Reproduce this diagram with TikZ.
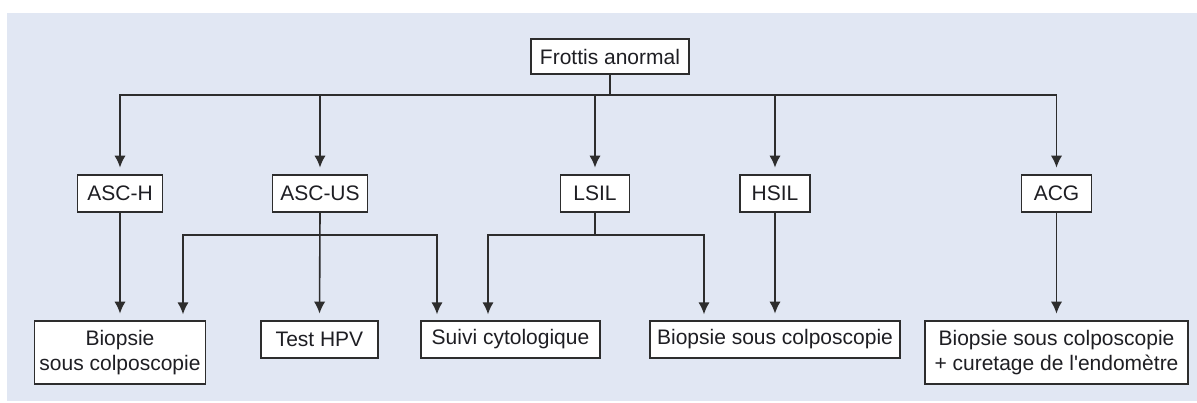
\documentclass[tikz,border=0pt]{standalone}
\usepackage{fontspec}
\setmainfont{Liberation Sans}[Ligatures=TeXOff]
\usetikzlibrary{arrows.meta}
\definecolor{bgblue}{RGB}{225,231,243}
\definecolor{lincol}{RGB}{45,45,45}
\definecolor{txtcol}{RGB}{30,30,35}
\begin{document}
\begin{tikzpicture}[x=0.75pt,y=-0.75pt,
  box/.style={draw=lincol,line width=1.1pt,fill=white,inner sep=0pt,align=center,
    text=txtcol,font=\fontsize{15.75pt}{18.75pt}\selectfont},
  conn/.style={draw=lincol,line width=1.2pt},
  arr/.style={conn,-{Latex[length=9pt,width=8.5pt]},shorten >=5pt}]
\useasboundingbox (0,0) rectangle (1197,403);
\fill[bgblue] (7,13) rectangle (1197,401);
% top
\node[box,minimum width=158*0.75pt,minimum height=35*0.75pt] (top) at (610,56.5) {Frottis anormal};
% level 1
\node[box,minimum width=85*0.75pt,minimum height=37*0.75pt] (asch) at (120,193.5) {ASC-H};
\node[box,minimum width=95*0.75pt,minimum height=37*0.75pt] (ascus) at (320,193.5) {ASC-US};
\node[box,minimum width=69*0.75pt,minimum height=37*0.75pt] (lsil) at (595,193.5) {LSIL};
\node[box,minimum width=70*0.75pt,minimum height=37*0.75pt] (hsil) at (775,193.5) {HSIL};
\node[box,minimum width=70*0.75pt,minimum height=37*0.75pt] (acg) at (1056.5,193.5) {ACG};
% level 2
\node[box,minimum width=171*0.75pt,minimum height=63*0.75pt] (biopl) at (120,352.5) {Biopsie\\sous colposcopie};
\node[box,minimum width=117*0.75pt,minimum height=37*0.75pt] (hpv) at (319.5,339.5) {Test HPV};
\node[box,minimum width=179*0.75pt,minimum height=37*0.75pt] (suivi) at (510.5,339.5) {Suivi cytologique};
\node[box,minimum width=250*0.75pt,minimum height=37*0.75pt] (biopm) at (775,339.5) {Biopsie sous colposcopie};
\node[box,minimum width=263*0.75pt,minimum height=63*0.75pt] (biopr) at (1056.5,352.5) {Biopsie sous colposcopie\\+ curetage de l'endomètre};
% bus from top
\coordinate (bus) at (610,95);
\draw[conn] (top.south) -- (bus);
\draw[arr] (bus) -| (asch.north);
\draw[arr] (bus) -| (ascus.north);
\draw[arr] (bus) -| (lsil.north);
\draw[arr] (bus) -| (hsil.north);
\draw[arr] (bus) -| (acg.north);
% direct arrows
\draw[arr] (asch.south) -- (biopl.north);
\draw[arr] (ascus.south) -- (hpv.north);
\draw[arr] (hsil.south) -- (biopm.north);
\draw[arr] (acg.south) -- (biopr.north);
% ASC-US branch
\coordinate (usbus) at (320,235);
\coordinate (usl) at (183,321);
\coordinate (usr) at (437,321);
\draw[arr] (usbus) -| (usl);
\draw[arr] (usbus) -| (usr);
% LSIL branch
\coordinate (lbus) at (595,235);
\coordinate (ll) at (488,321);
\coordinate (lr) at (704,321);
\draw[conn] (lsil.south) -- (lbus);
\draw[arr] (lbus) -| (ll);
\draw[arr] (lbus) -| (lr);
\end{tikzpicture}
\end{document}
